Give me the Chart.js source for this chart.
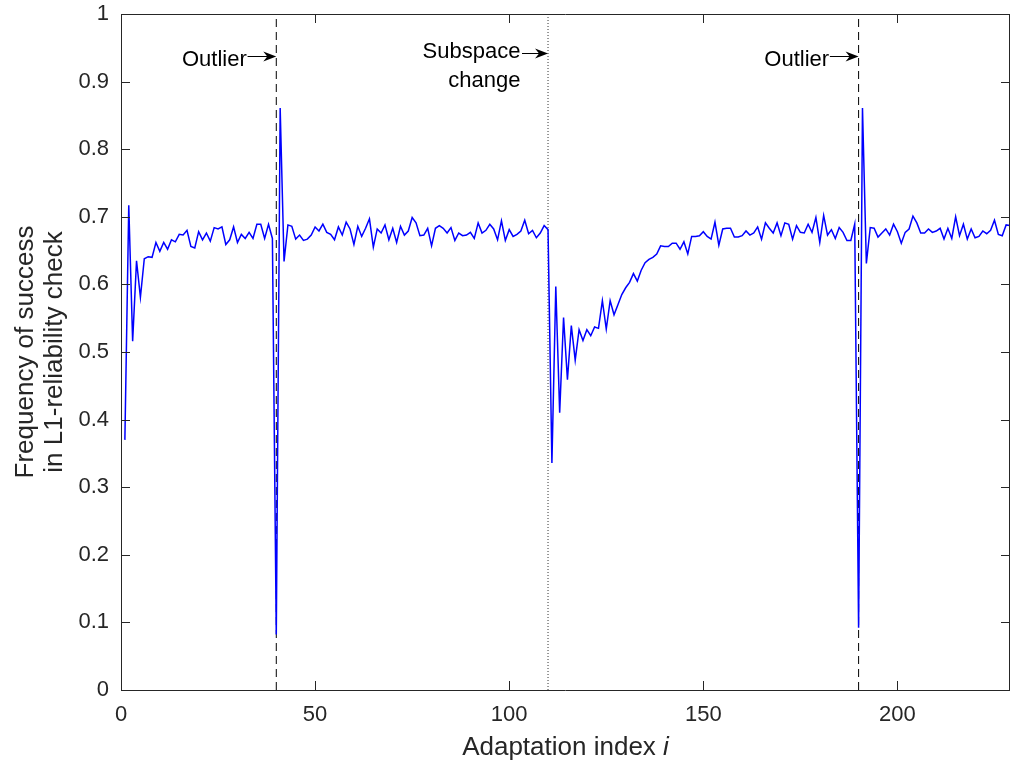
<!DOCTYPE html>
<html>
<head>
<meta charset="utf-8">
<script src="https://cdn.jsdelivr.net/npm/chart.js@4.4.1/dist/chart.umd.min.js"></script>
<style>
  html, body { margin: 0; padding: 0; background: #fff; }
  canvas { display: block; }
</style>
</head>
<body>
<canvas id="myChart" width="1010" height="768"></canvas>
<script>
// success frequency of the L1-reliability check, one value per adaptation step (i = 1..229)
const freq = [
  0.370, 0.717, 0.516, 0.635, 0.581, 0.638, 0.641, 0.640, 0.662, 0.649,
  0.662, 0.652, 0.666, 0.663, 0.674, 0.673, 0.680, 0.656, 0.654, 0.678,
  0.666, 0.676, 0.664, 0.684, 0.682, 0.685, 0.659, 0.666, 0.685, 0.662,
  0.674, 0.668, 0.677, 0.668, 0.689, 0.689, 0.668, 0.689, 0.668, 0.082,
  0.861, 0.634, 0.688, 0.686, 0.667, 0.673, 0.665, 0.667, 0.673, 0.685,
  0.679, 0.689, 0.677, 0.674, 0.666, 0.685, 0.673, 0.692, 0.682, 0.659,
  0.686, 0.671, 0.683, 0.697, 0.655, 0.682, 0.676, 0.688, 0.666, 0.683,
  0.662, 0.686, 0.673, 0.679, 0.699, 0.691, 0.672, 0.673, 0.683, 0.657,
  0.683, 0.687, 0.683, 0.676, 0.684, 0.665, 0.676, 0.672, 0.673, 0.677,
  0.668, 0.691, 0.676, 0.680, 0.689, 0.682, 0.666, 0.694, 0.665, 0.681,
  0.671, 0.674, 0.679, 0.695, 0.675, 0.680, 0.669, 0.676, 0.687, 0.681,
  0.336, 0.597, 0.410, 0.551, 0.459, 0.539, 0.488, 0.533, 0.517, 0.533,
  0.524, 0.537, 0.535, 0.576, 0.534, 0.576, 0.555, 0.570, 0.585, 0.595,
  0.603, 0.616, 0.605, 0.621, 0.632, 0.637, 0.640, 0.645, 0.657, 0.656,
  0.656, 0.661, 0.661, 0.652, 0.663, 0.645, 0.671, 0.671, 0.672, 0.678,
  0.671, 0.667, 0.692, 0.658, 0.682, 0.683, 0.683, 0.670, 0.670, 0.672,
  0.679, 0.673, 0.676, 0.685, 0.667, 0.691, 0.683, 0.676, 0.691, 0.672,
  0.691, 0.689, 0.667, 0.687, 0.677, 0.676, 0.689, 0.677, 0.699, 0.662,
  0.702, 0.673, 0.681, 0.668, 0.684, 0.677, 0.665, 0.665, 0.689, 0.092,
  0.861, 0.631, 0.684, 0.683, 0.670, 0.676, 0.682, 0.673, 0.689, 0.678,
  0.661, 0.677, 0.682, 0.701, 0.691, 0.676, 0.676, 0.682, 0.677, 0.679,
  0.683, 0.667, 0.683, 0.668, 0.700, 0.672, 0.689, 0.667, 0.682, 0.669,
  0.671, 0.679, 0.675, 0.680, 0.695, 0.674, 0.672, 0.688, 0.687
];

const xTicks = [0, 50, 100, 150, 200];
const yTicks = [0, 0.1, 0.2, 0.3, 0.4, 0.5, 0.6, 0.7, 0.8, 0.9, 1];

// events marked with vertical lines
const outlierAt = [40, 190];
const subspaceChangeAt = 110;

const FONT = 'Liberation Sans, Arial, Helvetica, sans-serif';
const AXIS_COLOR = '#262626';

const points = freq.map((v, k) => ({ x: k + 1, y: v }));
const vline = x => [{ x: x, y: 0 }, { x: x, y: 1 }];

// text + arrow notes, positions in data units (y = baseline of first line)
const notes = [
  { lines: ['Outlier'], x: 32.4, y: 0.9236, ax0: 32.6, ax1: 40, ay: 0.9375 },
  { lines: ['Subspace', 'change'], x: 102.9, y: 0.9345, ax0: 103.3, ax1: 110, ay: 0.9424 },
  { lines: ['Outlier'], x: 182.4, y: 0.9236, ax0: 182.6, ax1: 190, ay: 0.9375 }
];

const framePlugin = {
  id: 'frame',
  afterDraw(chart) {
    const { ctx, chartArea: a, scales } = chart;
    const xs = scales.x, ys = scales.y;
    ctx.save();

    // box and inward ticks on all four sides
    ctx.strokeStyle = AXIS_COLOR;
    ctx.lineWidth = 1;
    ctx.beginPath();
    ctx.rect(a.left + 0.5, a.top + 0.5, a.right - a.left - 1, a.bottom - a.top);
    const tl = 9;
    xTicks.forEach(t => {
      const px = Math.round(xs.getPixelForValue(t)) + 0.5;
      ctx.moveTo(px, a.bottom); ctx.lineTo(px, a.bottom - tl);
      ctx.moveTo(px, a.top); ctx.lineTo(px, a.top + tl);
    });
    yTicks.forEach(t => {
      const py = Math.round(ys.getPixelForValue(t)) + 0.5;
      ctx.moveTo(a.left, py); ctx.lineTo(a.left + tl, py);
      ctx.moveTo(a.right, py); ctx.lineTo(a.right - tl, py);
    });
    ctx.stroke();

    // notes with arrows
    ctx.fillStyle = '#000';
    ctx.strokeStyle = '#000';
    ctx.font = '22px ' + FONT;
    ctx.textAlign = 'right';
    ctx.textBaseline = 'alphabetic';
    notes.forEach(n => {
      const tx = xs.getPixelForValue(n.x);
      const ty = ys.getPixelForValue(n.y);
      n.lines.forEach((s, k) => ctx.fillText(s, tx, ty + k * 29));
      const x0 = xs.getPixelForValue(n.ax0);
      const x1 = xs.getPixelForValue(n.ax1);
      const y = Math.round(ys.getPixelForValue(n.ay)) + 0.5;
      ctx.lineWidth = 1;
      ctx.beginPath();
      ctx.moveTo(x0, y); ctx.lineTo(x1 - 6, y);
      ctx.stroke();
      ctx.beginPath();
      ctx.moveTo(x1, y);
      ctx.lineTo(x1 - 13, y - 5);
      ctx.lineTo(x1 - 9, y);
      ctx.lineTo(x1 - 13, y + 5);
      ctx.closePath();
      ctx.fill();
    });

    // axis titles
    ctx.fillStyle = AXIS_COLOR;
    ctx.font = '26px ' + FONT;
    ctx.textAlign = 'left';
    ctx.textBaseline = 'middle';
    const head = 'Adaptation index ';
    const wHead = ctx.measureText(head).width;
    ctx.font = 'italic 26px ' + FONT;
    const wI = ctx.measureText('i').width;
    const cx = (a.left + a.right) / 2;
    const startX = cx - (wHead + wI) / 2;
    ctx.font = '26px ' + FONT;
    ctx.fillText(head, startX, 748);
    ctx.font = 'italic 26px ' + FONT;
    ctx.fillText('i', startX + wHead, 748);

    ctx.font = '26px ' + FONT;
    ctx.textAlign = 'center';
    ctx.translate(0, (a.top + a.bottom) / 2);
    ctx.rotate(-Math.PI / 2);
    ctx.fillText('Frequency of success', 0, 26);
    ctx.fillText('in L1-reliability check', 0, 55);
    ctx.restore();
  }
};

const ctx = document.getElementById('myChart').getContext('2d');

let chart = new Chart(ctx, {
  type: 'line',
  data: {
    datasets: [{
      data: points,
      borderColor: '#0000ff',
      borderWidth: 1.5,
      pointRadius: 0,
      tension: 0,
    }, {
      data: vline(outlierAt[0]),
      borderColor: '#000',
      borderWidth: 1,
      borderDash: [8, 5],
      pointRadius: 0,
    }, {
      data: vline(subspaceChangeAt),
      borderColor: '#333',
      borderWidth: 1,
      borderDash: [1, 2],
      pointRadius: 0,
    }, {
      data: vline(outlierAt[1]),
      borderColor: '#000',
      borderWidth: 1,
      borderDash: [8, 5],
      pointRadius: 0,
    }],
  },
  options: {
    responsive: false,
    animation: false,
    layout: { padding: { top: 14, right: 0, left: 0, bottom: 0 } },
    plugins: {
      legend: { display: false },
      tooltip: { enabled: false },
    },
    scales: {
      x: {
        type: 'linear',
        min: 0,
        max: 229,
        grid: { display: false, drawTicks: false },
        border: { display: false },
        ticks: {
          stepSize: 50,
          padding: 12,
          maxRotation: 0,
          color: AXIS_COLOR,
          font: { family: FONT, size: 22 },
        },
        afterBuildTicks: s => { s.ticks = xTicks.map(v => ({ value: v })); },
        afterFit: s => { s.height = 78; s.paddingLeft = 0; s.paddingRight = 0; },
      },
      y: {
        min: 0,
        max: 1,
        grid: { display: false, drawTicks: false },
        border: { display: false },
        ticks: {
          padding: 12,
          color: AXIS_COLOR,
          font: { family: FONT, size: 22 },
          callback: v => String(Math.round(v * 10) / 10),
        },
        afterBuildTicks: s => { s.ticks = yTicks.map(v => ({ value: v })); },
        afterFit: s => { s.width = 121; s.paddingTop = 0; s.paddingBottom = 0; },
      },
    },
  },
  plugins: [framePlugin],
});
</script>
</body>
</html>
